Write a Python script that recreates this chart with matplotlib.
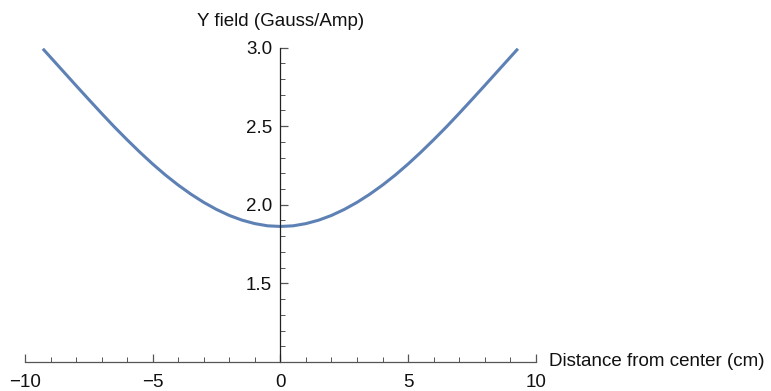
from matplotlib import pyplot as plt
from matplotlib import ticker
import numpy as np

plt.rcParams['font.family'] = ['Liberation Sans', 'DejaVu Sans']
plt.rcParams['font.size'] = 13.5

distance = [-9.3, -9.0, -8.5, -8.0, -7.5, -7.0, -6.5, -6.0, -5.5, -5.0,
            -4.5, -4.0, -3.5, -3.0, -2.5, -2.0, -1.5, -1.0, -0.5, 0.0,
            0.5, 1.0, 1.5, 2.0, 2.5, 3.0, 3.5, 4.0, 4.5, 5.0,
            5.5, 6.0, 6.5, 7.0, 7.5, 8.0, 8.5, 9.0, 9.3]
field = [2.992, 2.938, 2.848, 2.758, 2.669, 2.581, 2.495, 2.413, 2.334, 2.259,
         2.189, 2.125, 2.067, 2.015, 1.970, 1.932, 1.902, 1.880, 1.866, 1.862,
         1.866, 1.880, 1.902, 1.932, 1.970, 2.015, 2.067, 2.125, 2.189, 2.259,
         2.334, 2.413, 2.495, 2.581, 2.669, 2.758, 2.848, 2.938, 2.992]

x_major = [-10, -5, 0, 5, 10]
y_major = [1.5, 2.0, 2.5, 3.0]

fig = plt.figure(figsize=(7.71, 3.91), dpi=100)
ax = fig.add_axes([0.0324, 0.0742, 0.6625, 0.8043])

ax.plot(distance, field, color='#5e81b5', lw=2.2, solid_capstyle='butt',
        solid_joinstyle='round')

ax.set_xlim(-10, 10)
ax.set_ylim(1.0, 3.0)

# axes cross at the origin of the plot range, Mathematica style
axis_grey = '#555555'
ax.spines['left'].set_position(('data', 0))
ax.spines['right'].set_visible(False)
ax.spines['top'].set_visible(False)
for s in ('left', 'bottom'):
    ax.spines[s].set_color(axis_grey)
    ax.spines[s].set_linewidth(0.9)
    ax.spines[s].set_clip_on(False)
ax.spines['left'].set_color('#222222')

ax.xaxis.set_major_locator(ticker.FixedLocator(x_major))
ax.xaxis.set_minor_locator(ticker.MultipleLocator(1))
ax.yaxis.set_major_locator(ticker.FixedLocator(y_major))
ax.yaxis.set_minor_locator(ticker.MultipleLocator(0.1))
ax.yaxis.set_major_formatter(ticker.FormatStrFormatter('%.1f'))

ax.tick_params(axis='both', which='both', direction='in', color=axis_grey,
               labelcolor='#111111', labelsize=13.5)
ax.tick_params(axis='x', which='major', length=6, width=0.9, pad=9)
ax.tick_params(axis='x', which='minor', length=3.5, width=0.7)
ax.tick_params(axis='y', which='major', length=6, width=0.9, pad=6)
ax.tick_params(axis='y', which='minor', length=3.5, width=0.7)

ax.text(0, 1.0, 'Y field (Gauss/Amp)', transform=ax.get_xaxis_transform(),
        ha='center', va='bottom', fontsize=13.5, color='#111111',
        position=(0, 1.055))
ax.text(1.026, 0.0, 'Distance from center (cm)', transform=ax.transAxes,
        ha='left', va='center', fontsize=13.5, color='#111111')

fig.savefig('out.png', dpi=100)
